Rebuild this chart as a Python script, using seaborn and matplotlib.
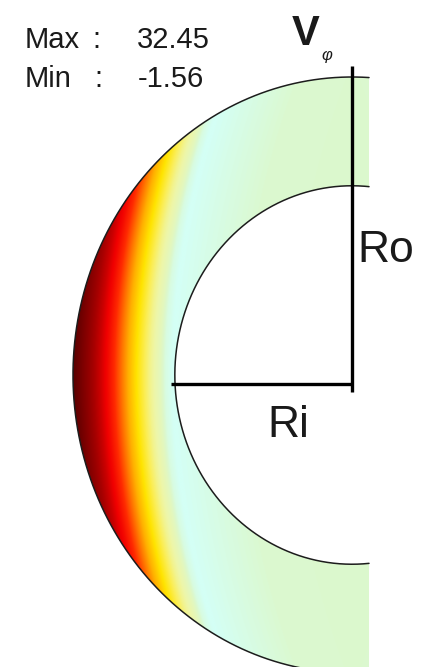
import numpy as np
import matplotlib
matplotlib.use("Agg")
import matplotlib.pyplot as plt
from matplotlib.colors import LinearSegmentedColormap, Normalize
from matplotlib.path import Path
from matplotlib.patches import PathPatch
import seaborn as sns

# Azimuthal velocity against the (slightly tilted) cylindrical radius u = s + k z^2
u_profile = [0.00, 0.40, 0.55, 0.645, 0.67, 0.688, 0.724, 0.753, 0.778, 0.803, 0.824, 0.875, 0.903, 0.939, 1.00]
vphi_profile = [0.6, 0.3, -0.8, -1.56, -0.5, 1.5, 4.0, 7.0, 9.5, 12.0, 15.0, 22.0, 25.0, 28.0, 32.45]
v_max = 32.45
v_min = -1.56

# Colour scale: value stops and their colours
level_values = [-1.56, 0.5, 3.0, 6.0, 9.0, 12.0, 15.0, 19.0, 23.0, 27.0, 32.45]
level_colors = ["#d4fff5", "#dcf8cc", "#eef6a8", "#fbee58", "#ffe400", "#ffb000",
                "#ff7a00", "#ff2a00", "#f00000", "#a80000", "#5a0000"]

R_OUTER = 1.0
R_INNER = 0.635
TILT = 0.2
X_CUT = 0.061

sns.set_theme(style="white")
plt.rcParams["font.family"] = ["Liberation Sans", "DejaVu Sans"]

W, H = 429, 667
fig = plt.figure(figsize=(W / 100, H / 100), dpi=100)
ax = fig.add_axes([0, 0, 1, 1])
CX, CY, SX, SY = 352, 375, 279, 298
ax.set_xlim(-CX / SX, (W - CX) / SX)
ax.set_ylim(-(H - CY) / SY, CY / SY)
ax.axis("off")


def px_y(p):
    return (CY - p) / SY


span = v_max - v_min
stops = [((v - v_min) / span, c) for v, c in zip(level_values, level_colors)]
cmap = LinearSegmentedColormap.from_list("vphi", stops)

# field on a cartesian grid, clipped to the half shell
xs = np.linspace(-R_OUTER, X_CUT, 700)
ys = np.linspace(-R_OUTER, R_OUTER, 1200)
XX, YY = np.meshgrid(xs, ys)
U = np.abs(XX) + TILT * YY ** 2
V = np.interp(U, u_profile, vphi_profile)
im = ax.imshow(V, extent=(xs[0], xs[-1], ys[0], ys[-1]), origin="lower", cmap=cmap,
               norm=Normalize(v_min, v_max), aspect="auto", interpolation="bilinear")

t_o = np.arccos(X_CUT / R_OUTER)
t_i = np.arccos(X_CUT / R_INNER)
to = np.linspace(t_o, 2 * np.pi - t_o, 400)
ti = np.linspace(2 * np.pi - t_i, t_i, 400)
outer = np.column_stack([R_OUTER * np.cos(to), R_OUTER * np.sin(to)])
inner = np.column_stack([R_INNER * np.cos(ti), R_INNER * np.sin(ti)])
verts = np.vstack([outer, inner, outer[:1]])
codes = [Path.MOVETO] + [Path.LINETO] * (len(verts) - 2) + [Path.CLOSEPOLY]
shell = PathPatch(Path(verts, codes), transform=ax.transData, facecolor="none", edgecolor="none")
ax.add_patch(shell)
im.set_clip_path(shell)

ax.plot(outer[:, 0], outer[:, 1], color="#1c1c1c", lw=1.1)
ax.plot(inner[:, 0], inner[:, 1], color="#1c1c1c", lw=1.1)

# radius markers
ax.plot([0, 0], [px_y(66), px_y(392)], color="black", lw=2.4, solid_capstyle="butt")
ax.plot([-R_INNER - 0.012, 0], [px_y(383.5), px_y(383.5)], color="black", lw=2.4,
        solid_capstyle="butt")


def ftext(x, y, s, **kw):
    fig.text(x / W, 1 - y / H, s, va="baseline", color="#1a1a1a", **kw)


ftext(25, 48, "Max", fontsize=21)
ftext(92, 48, ":", fontsize=21)
ftext(137, 48, f"{v_max:.2f}", fontsize=21)
ftext(25, 87, "Min", fontsize=21)
ftext(94, 87, ":", fontsize=21)
ftext(138, 87, f"{v_min:.2f}", fontsize=21)

ftext(292, 45, "V", fontsize=30, fontweight="bold")
ftext(321, 60, "φ", fontsize=12, fontstyle="italic")

ftext(357, 262, "Ro", fontsize=32)
ftext(267, 437, "Ri", fontsize=32)

fig.savefig("out.png", dpi=100)
